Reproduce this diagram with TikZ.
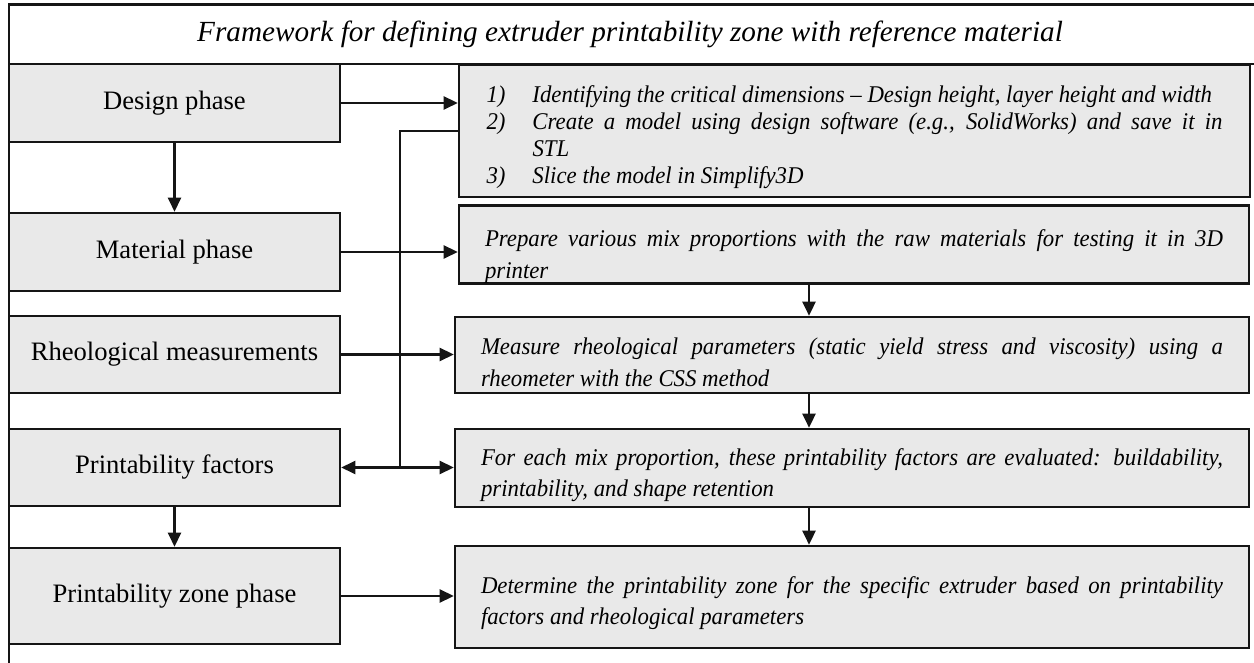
\documentclass[tikz,border=0pt]{standalone}
\usepackage{fontspec}
\setmainfont{Liberation Serif}
\newfontfamily\taskfont[FakeStretch=0.95]{Liberation Serif}
\usetikzlibrary{arrows.meta,positioning}
\definecolor{zoneFill}{HTML}{E9E9E9}
\definecolor{zoneLine}{HTML}{151515}
\setlength{\parindent}{0pt}

\begin{document}
\begin{tikzpicture}[x=0.5pt, y=-0.5pt,
    phase/.style={draw=zoneLine, line width=1.3pt, fill=zoneFill, minimum width=165.5pt,
      inner sep=0pt, font=\fontsize{13.3}{15}\selectfont},
    task/.style={draw=zoneLine, line width=1.3pt, fill=zoneFill, text width=371pt,
      align=justify, inner xsep=13pt, inner ysep=0pt,
      font=\taskfont\fontsize{12}{15.8}\selectfont\itshape,
      execute at begin node={\rule{0pt}{#1}}},
    task/.default=15.5pt,
    arr/.style={-{Triangle[length=7pt, width=6.5pt]}, line width=1.3pt, zoneLine},
    link/.style={line width=1.3pt, zoneLine}]
  \useasboundingbox (0,0) rectangle (1254,663);

  % frame and title
  \draw[link] (1254,4.5) -- (9,4.5) -- (9,663);
  \draw[link] (9,64) -- (1254,64);
  \node[font=\fontsize{14.6}{16}\selectfont\itshape] (title) at (630,34)
    {Framework for defining extruder printability zone with reference material};

  % phases
  \node[phase, minimum height=39pt] (design) at (174.5,103) {Design phase};
  \node[phase, minimum height=39pt] (material) at (174.5,252) {Material phase};
  \node[phase, minimum height=38.5pt] (rheo) at (174.5,354.5) {Rheological measurements};
  \node[phase, minimum height=38.5pt] (factors) at (174.5,467.5) {Printability factors};
  \node[phase, minimum height=48pt] (zone) at (174.5,596) {Printability zone phase};

  % tasks
  \node[task=14.5pt, minimum height=66pt, text width=368pt, inner xsep=13.75pt,
    font=\taskfont\fontsize{12}{13.5}\selectfont\itshape] (steps) at (854.5,131) {%
    \hangindent=23pt\hangafter=1\makebox[23pt][l]{1)}Identifying the critical dimensions – Design height, layer height and width\par
    \hangindent=23pt\hangafter=1\makebox[23pt][l]{2)}Create a model using design software (e.g., SolidWorks) and save it in\linebreak STL\par
    \hangindent=23pt\hangafter=1\makebox[23pt][l]{3)}Slice the model in Simplify3D};
  \node[task=20.5pt, minimum height=38.5pt, text width=369pt] (mix) at (854,244.5)
    {Prepare various mix proportions with the raw materials for testing it in 3D\linebreak printer};
  \node[task=15.5pt, minimum height=38pt] (rheom) at (852,355)
    {Measure rheological parameters (static yield stress and viscosity) using a\linebreak rheometer with the CSS method};
  \node[task, minimum height=39pt] (eval) at (852,468)
    {For each mix proportion, these printability factors are evaluated: buildability,\linebreak printability, and shape retention};
  \node[task=14.5pt, minimum height=51pt] (zonebox) at (852,597)
    {Determine the printability zone for the specific extruder based on printability\linebreak factors and rheological parameters};

  \coordinate (rx) at (809,0);
  \coordinate (jn) at (400,467.5);

  % connectors
  \draw[arr] (design.east) -- (design.east -| steps.west);
  \draw[arr] (design) -- (material);
  \draw[arr] (material.east) -- (material.east -| mix.west);
  \draw[arr] (rheo.east) -- (rheo.east -| rheom.west);
  \draw[link] (steps.west) -| (jn);
  \draw[arr] (jn) -- (factors.east);
  \draw[arr] (jn) -- (jn -| eval.west);
  \draw[arr] (factors) -- (zone);
  \draw[arr] (zone.east) -- (zone.east -| zonebox.west);
  \draw[arr] (mix.south -| rx) -- (rheom.north -| rx);
  \draw[arr] (rheom.south -| rx) -- (eval.north -| rx);
  \draw[arr] (eval.south -| rx) -- (zonebox.north -| rx);
\end{tikzpicture}
\end{document}
